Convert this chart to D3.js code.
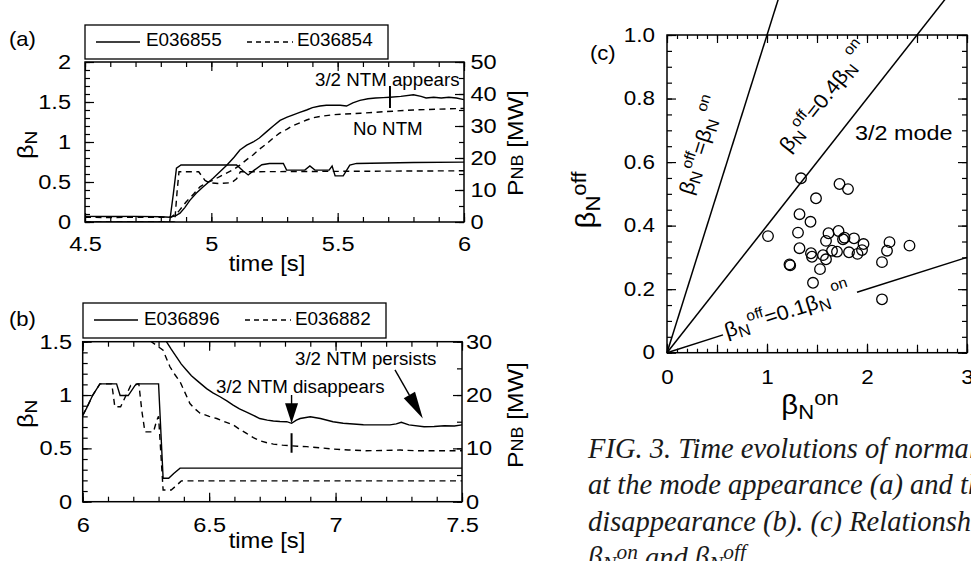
<!DOCTYPE html>
<html><head><meta charset="utf-8">
<script src="https://cdn.jsdelivr.net/npm/d3@7/dist/d3.min.js"></script>
<style>html,body{margin:0;padding:0;background:#fff;overflow:hidden}svg{display:block}</style>
</head><body>
<svg id="fig" width="971" height="561"></svg>
<script>
// ---------------- data ----------------
// (a) mode appearance: normalized beta and NB power, [time s, value]
const shotsA = ['E036855', 'E036854'];
const betaA855 = [[4.5,0.07],[4.6,0.068],[4.7,0.07],[4.8,0.066],[4.836,0.06],[4.86,0.08],[4.876,0.11],[4.895,0.18],[4.915,0.27],[4.94,0.36],[4.968,0.44],[5.008,0.55],[5.035,0.63],[5.061,0.71],[5.09,0.81],[5.113,0.9],[5.14,0.96],[5.166,1.0],[5.19,1.05],[5.219,1.13],[5.245,1.2],[5.272,1.27],[5.3,1.31],[5.324,1.34],[5.35,1.37],[5.377,1.4],[5.4,1.43],[5.43,1.45],[5.455,1.46],[5.48,1.46],[5.51,1.46],[5.535,1.45],[5.56,1.49],[5.588,1.52],[5.62,1.54],[5.65,1.55],[5.68,1.555],[5.707,1.56],[5.75,1.57],[5.8,1.59],[5.83,1.57],[5.85,1.55],[5.88,1.56],[5.91,1.55],[5.94,1.56],[5.97,1.55],[6.0,1.53]];
const betaA854 = [[4.5,0.06],[4.6,0.055],[4.7,0.06],[4.84,0.06],[4.87,0.13],[4.9,0.25],[4.93,0.35],[4.955,0.44],[4.98,0.49],[5.008,0.525],[5.035,0.57],[5.06,0.61],[5.09,0.66],[5.113,0.71],[5.14,0.78],[5.166,0.84],[5.19,0.91],[5.22,0.98],[5.245,1.05],[5.27,1.11],[5.3,1.16],[5.32,1.2],[5.35,1.24],[5.377,1.275],[5.4,1.3],[5.43,1.32],[5.48,1.34],[5.53,1.35],[5.59,1.36],[5.69,1.38],[5.8,1.4],[5.89,1.41],[6.0,1.42]];
const powerA855 = [[4.5,0],[4.835,0],[4.85,9],[4.862,16.8],[4.88,17.8],[5.1,17.8],[5.125,16],[5.146,14.7],[5.17,16.2],[5.2,17.9],[5.23,18.3],[5.285,18.3],[5.298,16.2],[5.37,16.2],[5.39,17.5],[5.41,16.2],[5.466,16.2],[5.478,17.5],[5.49,14.4],[5.522,14.4],[5.548,17.8],[5.575,18.3],[5.8,18.6],[6.0,18.7]];
const powerA854 = [[4.5,0],[4.855,0],[4.865,10],[4.872,15.7],[4.95,15.7],[4.975,13],[4.99,12.3],[5.03,12.0],[5.08,12.3],[5.1,13.5],[5.115,15.7],[6.0,16.0]];
const markAppear = [5.707, 1.425, 1.7];

// (b) mode disappearance
const shotsB = ['E036896', 'E036882'];
const betaB896 = [[6.3,1.62],[6.331,1.5],[6.35,1.43],[6.37,1.36],[6.39,1.29],[6.41,1.234],[6.43,1.18],[6.45,1.14],[6.47,1.1],[6.49,1.06],[6.515,1.02],[6.543,0.984],[6.57,0.945],[6.595,0.906],[6.62,0.87],[6.648,0.84],[6.675,0.81],[6.7,0.78],[6.73,0.765],[6.754,0.756],[6.78,0.752],[6.807,0.75],[6.826,0.735],[6.845,0.765],[6.86,0.78],[6.9,0.797],[6.94,0.78],[6.99,0.75],[7.03,0.735],[7.07,0.728],[7.11,0.722],[7.149,0.72],[7.18,0.72],[7.215,0.72],[7.24,0.73],[7.26,0.745],[7.29,0.72],[7.35,0.703],[7.39,0.705],[7.43,0.712],[7.47,0.71],[7.5,0.72]];
const betaB882 = [[6.25,1.6],[6.272,1.5],[6.295,1.46],[6.318,1.42],[6.33,1.35],[6.345,1.265],[6.365,1.19],[6.385,1.125],[6.405,1.02],[6.424,0.92],[6.444,0.87],[6.464,0.83],[6.5,0.8],[6.53,0.78],[6.56,0.75],[6.595,0.72],[6.62,0.68],[6.648,0.64],[6.675,0.6],[6.7,0.572],[6.73,0.552],[6.754,0.54],[6.79,0.53],[6.82,0.525],[6.85,0.52],[6.886,0.516],[6.94,0.505],[6.99,0.494],[7.05,0.485],[7.12,0.478],[7.19,0.48],[7.255,0.484],[7.32,0.478],[7.39,0.478],[7.5,0.478]];
const powerB896 = [[6.0,16.2],[6.015,17.5],[6.04,20],[6.068,22.1],[6.134,22.1],[6.148,19.9],[6.18,19.9],[6.207,21.8],[6.215,22.1],[6.3,22.1],[6.318,4.4],[6.34,4.4],[6.36,5.3],[6.385,6.3],[7.5,6.3]];
const powerB882 = [[6.0,16.2],[6.015,17.5],[6.04,20],[6.068,22.1],[6.115,22.1],[6.127,17.8],[6.15,17.8],[6.19,21.8],[6.222,22.1],[6.234,17],[6.246,13.1],[6.28,13.1],[6.293,15.3],[6.3,16],[6.318,2.2],[6.35,2.2],[6.37,3.0],[6.39,3.9],[7.5,3.9]];
const markDisappear = [6.826, 0.735, 0.459, 0.642];
const arrowPersist = [[7.235, 1.235], [7.345, 0.78]];

// (c) beta_N at mode onset vs. at mode disappearance
const betaOn  = [1.34,1.725,1.81,1.49,1.325,1.435,1.01,1.31,1.615,1.715,1.59,1.76,1.775,1.87,1.965,1.325,1.44,1.45,1.56,1.59,1.65,1.70,1.82,1.905,1.95,1.225,1.232,1.53,1.46,2.15,2.20,2.225,2.425,2.15];
const betaOff = [0.549,0.531,0.515,0.486,0.436,0.412,0.367,0.378,0.376,0.383,0.352,0.357,0.362,0.360,0.342,0.329,0.313,0.302,0.307,0.294,0.321,0.318,0.316,0.311,0.323,0.278,0.275,0.263,0.220,0.285,0.321,0.348,0.337,0.168];
const ratioLines = [1, 0.4, 0.1];

// tick labels
const ticksTimeA = [4.5, 5, 5.5, 6];
const ticksBetaA = [0, 0.5, 1, 1.5, 2];
const ticksPowerA = [0, 10, 20, 30, 40, 50];
const ticksTimeB = [6, 6.5, 7, 7.5];
const ticksBetaB = [0, 0.5, 1, 1.5];
const ticksPowerB = [0, 10, 20, 30];
const ticksOn = [0, 1, 2, 3];
const ticksOff = [0, 0.2, 0.4, 0.6, 0.8, 1.0];

const captionLines = [
  'FIG. 3. Time evolutions of normalized beta and NB power',
  'at the mode appearance (a) and the mode',
  'disappearance (b). (c) Relationship between'
];

// ---------------- layout ----------------
const SANS = '"Liberation Sans", Arial, Helvetica, sans-serif';
const SERIF = '"Liberation Serif", "Times New Roman", serif';
const svg = d3.select('#fig');
const fA = {x0: 85, x1: 464, y0: 62, y1: 222};
const fB = {x0: 82.7, x1: 462, y0: 341.7, y1: 501.7};
const fC = {x0: 667, x1: 967, y0: 35, y1: 352.7};

const xA = d3.scaleLinear().domain([4.5, 6]).range([fA.x0, fA.x1]);
const yA = d3.scaleLinear().domain([0, 2]).range([fA.y1, fA.y0]);
const pA = d3.scaleLinear().domain([0, 50]).range([fA.y1, fA.y0]);
const xB = d3.scaleLinear().domain([6, 7.5]).range([fB.x0, fB.x1]);
const yB = d3.scaleLinear().domain([0, 1.5]).range([fB.y1, fB.y0]);
const pB = d3.scaleLinear().domain([0, 30]).range([fB.y1, fB.y0]);
const xC = d3.scaleLinear().domain([0, 3]).range([fC.x0, fC.x1]);
const yC = d3.scaleLinear().domain([0, 1]).range([fC.y1, fC.y0]);

const steps = (a, b, s) => d3.range(Math.round((b - a) / s) + 1).map(i => +(a + i * s).toFixed(4));
const fmtNum = d => String(+d.toFixed(2));
const TICK_SIZE = 20.5, TICK_SX = 1.15;

// inward tick marks (and optional labels) on one side of a frame
function tickAxis(maker, scale, pos, values, len, fmt, pad, size, sx) {
  const ax = maker(scale).tickValues(values).tickSizeInner(-len).tickSizeOuter(0)
    .tickPadding(pad || 0).tickFormat(fmt || (() => ''));
  const g = svg.append('g').attr('transform', pos).call(ax);
  g.select('.domain').remove();
  g.selectAll('.tick line').attr('stroke', '#000').attr('stroke-width', 1.2);
  g.selectAll('.tick text').attr('font-family', SANS).attr('font-size', size || 19)
    .attr('fill', '#000').attr('transform', `scale(${sx || 1},1)`);
  return g;
}

// text made of runs with sub/superscript shifts: [str, sizeFactor, shiftPx]
function rich(x, y, parts, o) {
  const t = svg.append('text')
    .attr('transform', `translate(${x},${y}) rotate(${o.rot || 0}) scale(${o.sx || 1},1)`)
    .attr('font-family', o.family || SANS).attr('font-size', o.size)
    .attr('font-style', o.style || 'normal').attr('text-anchor', o.anchor || 'start')
    .attr('fill', o.fill || '#000');
  let cur = 0;
  parts.forEach(([s, f = 1, sh = 0]) => {
    t.append('tspan').text(s).attr('font-size', o.size * f).attr('dy', sh - cur);
    cur = sh;
  });
  return t;
}
const plain = (x, y, s, o) => rich(x, y, [[s]], o);

function frame(f) {
  svg.append('rect').attr('x', f.x0).attr('y', f.y0).attr('width', f.x1 - f.x0).attr('height', f.y1 - f.y0)
    .attr('fill', 'none').attr('stroke', '#000').attr('stroke-width', 1.5);
}
function clip(id, f) {
  svg.append('clipPath').attr('id', id).append('rect')
    .attr('x', f.x0).attr('y', f.y0).attr('width', f.x1 - f.x0).attr('height', f.y1 - f.y0);
}
function series(data, x, y, dashed, clipId) {
  svg.append('path').datum(data)
    .attr('d', d3.line().x(d => x(d[0])).y(d => y(d[1])))
    .attr('fill', 'none').attr('stroke', '#000').attr('stroke-width', 1.4)
    .attr('stroke-dasharray', dashed ? '6,4.5' : null)
    .attr('clip-path', `url(#${clipId})`);
}
function legend(box, names, lineY, textY) {
  svg.append('rect').attr('x', box[0]).attr('y', box[1]).attr('width', box[2] - box[0]).attr('height', box[3] - box[1])
    .attr('fill', 'none').attr('stroke', '#000').attr('stroke-width', 1.3);
  const x0 = box[0];
  [[11, 55, 61, null], [162, 208, 212, '5,4']].forEach(([a, b, tx, dash], i) => {
    svg.append('line').attr('x1', x0 + a).attr('x2', x0 + b).attr('y1', lineY).attr('y2', lineY)
      .attr('stroke', '#000').attr('stroke-width', 1.3).attr('stroke-dasharray', dash);
    plain(x0 + tx, textY, names[i], {size: 17.5, sx: 1.08});
  });
}
function timePanel(f, x, y, p, tT, tBeta, tP, pads) {
  const dom = x.domain(), bd = y.domain(), pd = p.domain();
  const minorX = steps(dom[0], dom[1], 0.1), majorX = minorX.filter(v => Math.abs(v * 2 - Math.round(v * 2)) < 1e-6);
  tickAxis(d3.axisBottom, x, `translate(0,${f.y1})`, minorX, 5);
  tickAxis(d3.axisBottom, x, `translate(0,${f.y1})`, tT, 9, fmtNum, pads.bottom, TICK_SIZE, TICK_SX);
  tickAxis(d3.axisTop, x, `translate(0,${f.y0})`, minorX, 5);
  tickAxis(d3.axisTop, x, `translate(0,${f.y0})`, majorX, 9);
  tickAxis(d3.axisLeft, y, `translate(${f.x0},0)`, steps(bd[0], bd[1], 0.1), 5);
  tickAxis(d3.axisLeft, y, `translate(${f.x0},0)`, tBeta, 9, fmtNum, pads.left / TICK_SX, TICK_SIZE, TICK_SX);
  tickAxis(d3.axisRight, p, `translate(${f.x1},0)`, steps(pd[0], pd[1], 5), 5);
  tickAxis(d3.axisRight, p, `translate(${f.x1},0)`, tP, 9, fmtNum, pads.right / TICK_SX, TICK_SIZE, TICK_SX);
  frame(f);
}

// ---------------- panel (a) ----------------
clip('clipA', fA);
legend([85, 25, 388, 59], shotsA, 42, 46);
timePanel(fA, xA, yA, pA, ticksTimeA, ticksBetaA, ticksPowerA, {bottom: 14.5, left: 14, right: 6.5});
series(powerA855, xA, pA, false, 'clipA');
series(powerA854, xA, pA, true, 'clipA');
series(betaA855, xA, yA, false, 'clipA');
series(betaA854, xA, yA, true, 'clipA');
svg.append('line').attr('x1', xA(markAppear[0])).attr('x2', xA(markAppear[0]))
  .attr('y1', yA(markAppear[1])).attr('y2', yA(markAppear[2])).attr('stroke', '#000').attr('stroke-width', 2);
plain(315, 85.5, '3/2 NTM appears', {size: 18, sx: 1.04});
plain(353, 134.5, 'No NTM', {size: 18, sx: 1.04});
plain(9, 46, '(a)', {size: 21, sx: 1.05});
rich(33, 145, [['β'], ['N', 0.75, 4]], {size: 22, rot: -90, anchor: 'middle', sx: 1.15});
rich(523, 143, [['P'], ['NB', 0.72], [' [MW]']], {size: 22.5, rot: -90, anchor: 'middle', sx: 1.1});
plain(267, 271, 'time [s]', {size: 22, anchor: 'middle', sx: 1.08});

// ---------------- panel (b) ----------------
clip('clipB', fB);
legend([83, 303, 386, 338], shotsB, 320, 325);
timePanel(fB, xB, yB, pB, ticksTimeB, ticksBetaB, ticksPowerB, {bottom: 16, left: 10.5, right: 4});
series(powerB896, xB, pB, false, 'clipB');
series(powerB882, xB, pB, true, 'clipB');
series(betaB896, xB, yB, false, 'clipB');
series(betaB882, xB, yB, true, 'clipB');
// disappearance arrow onto the E036896 trace, plus a tick on E036882
{
  const ax = xB(markDisappear[0]), tip = yB(markDisappear[1]);
  svg.append('line').attr('x1', ax).attr('x2', ax).attr('y1', 395).attr('y2', tip - 12)
    .attr('stroke', '#000').attr('stroke-width', 1.4);
  svg.append('path').attr('d', `M${ax},${tip} L${ax - 6.5},${tip - 20} L${ax + 6.5},${tip - 20} Z`).attr('fill', '#000');
  svg.append('line').attr('x1', ax).attr('x2', ax).attr('y1', yB(markDisappear[3])).attr('y2', yB(markDisappear[2]))
    .attr('stroke', '#000').attr('stroke-width', 2);
  const [s, e] = arrowPersist.map(d => [xB(d[0]), yB(d[1])]);
  const dx = e[0] - s[0], dy = e[1] - s[1], L = Math.hypot(dx, dy), ux = dx / L, uy = dy / L;
  const hl = 27, hw = 6.5, bx = e[0] - ux * hl, by = e[1] - uy * hl;
  svg.append('line').attr('x1', s[0]).attr('y1', s[1]).attr('x2', bx).attr('y2', by).attr('stroke', '#000').attr('stroke-width', 1.4);
  svg.append('path').attr('d', `M${e[0]},${e[1]} L${bx - uy * hw},${by + ux * hw} L${bx + uy * hw},${by - ux * hw} Z`).attr('fill', '#000');
}
plain(216, 393, '3/2 NTM disappears', {size: 18, sx: 1.04});
plain(295, 364.5, '3/2 NTM persists', {size: 18, sx: 1.04});
plain(9, 326, '(b)', {size: 21, sx: 1.05});
rich(33, 414, [['β'], ['N', 0.75, 4]], {size: 22, rot: -90, anchor: 'middle', sx: 1.15});
rich(523, 415, [['P'], ['NB', 0.72], [' [MW]']], {size: 22.5, rot: -90, anchor: 'middle', sx: 1.1});
plain(267, 548, 'time [s]', {size: 22, anchor: 'middle', sx: 1.08});

// ---------------- panel (c) ----------------
tickAxis(d3.axisBottom, xC, `translate(0,${fC.y1})`, steps(0, 3, 0.1), 4);
tickAxis(d3.axisBottom, xC, `translate(0,${fC.y1})`, steps(0, 3, 0.5), 8);
tickAxis(d3.axisBottom, xC, `translate(0,${fC.y1})`, ticksOn, 9, fmtNum, 17.5, 19.5, 1.15);
tickAxis(d3.axisTop, xC, `translate(0,${fC.y0})`, steps(0, 3, 0.1), 4);
tickAxis(d3.axisTop, xC, `translate(0,${fC.y0})`, steps(0, 3, 0.5), 8);
tickAxis(d3.axisLeft, yC, `translate(${fC.x0},0)`, steps(0, 1, 0.05), 5);
tickAxis(d3.axisLeft, yC, `translate(${fC.x0},0)`, ticksOff, 9, d => d === 0 ? '0' : d.toFixed(1), 12 / 1.15, 19.5, 1.15);
tickAxis(d3.axisRight, yC, `translate(${fC.x1},0)`, steps(0, 1, 0.05), 5);
tickAxis(d3.axisRight, yC, `translate(${fC.x1},0)`, ticksOff, 9);
frame(fC);

// boundary lines beta_off = k * beta_on (the 0.1 line is broken for its label)
const lineSeg = (k, a, b) => svg.append('line')
  .attr('x1', xC(a)).attr('y1', yC(k * a)).attr('x2', xC(b)).attr('y2', yC(k * b))
  .attr('stroke', '#000').attr('stroke-width', 1.5);
lineSeg(ratioLines[0], 0, 1.15);
lineSeg(ratioLines[1], 0, 1.15 / ratioLines[1]);
lineSeg(ratioLines[2], 0, 0.56);
lineSeg(ratioLines[2], 1.9, 3);

svg.append('g').selectAll('circle').data(betaOn).join('circle')
  .attr('cx', d => xC(d)).attr('cy', (d, i) => yC(betaOff[i])).attr('r', 5.3)
  .attr('fill', 'none').attr('stroke', '#000').attr('stroke-width', 1.3);

// on-screen angle of a line beta_off = k * beta_on
const angle = k => -Math.atan((yC(0) - yC(k)) / (xC(1) - xC(0))) * 180 / Math.PI;
const lab = [['β'], ['N', 0.78, 4], ['off', 0.72, -9]];
const labOpts = k => ({size: 20.5, rot: angle(k), sx: 1.06});
rich(xC(0.5) - 25, yC(0.5) + 2, [...lab, ['=β', 1, 0], ['N', 0.78, 4], [' on', 0.72, -12]], labOpts(ratioLines[0]));
rich(xC(1.571) - 35, yC(0.628), [...lab, ['=0.4β', 1, 0], ['N', 0.78, 4], [' on', 0.72, -12]], labOpts(ratioLines[1]));
rich(xC(0.6), yC(0.06) + 4, [...lab, ['=0.1β', 1, 0], ['N', 0.78, 4], [' on', 0.72, -12]], labOpts(ratioLines[2]));
plain(855, 139.5, '3/2 mode', {size: 20.5, sx: 1.14});
plain(590, 60, '(c)', {size: 21, sx: 1.05});
rich(595, 200, [['β'], ['N', 0.75, 5], ['off', 0.75, -9]], {size: 28, rot: -90, anchor: 'middle', sx: 1.05});
rich(810, 414, [['β'], ['N', 0.75, 5], ['on', 0.75, -9]], {size: 28, anchor: 'middle', sx: 1.05});

// caption
captionLines.forEach((s, i) => plain(588, 458 + i * 36.3, s, {size: 28.5, family: SERIF, style: 'italic', fill: '#1a1a1a'}));
rich(588, 567, [['β'], ['N', 0.75, 4], ['on', 0.75, -8], [' and β', 1, 0], ['N', 0.75, 4], ['off', 0.75, -8]],
  {size: 28.5, family: SERIF, style: 'italic', fill: '#1a1a1a'});
</script>
</body></html>
